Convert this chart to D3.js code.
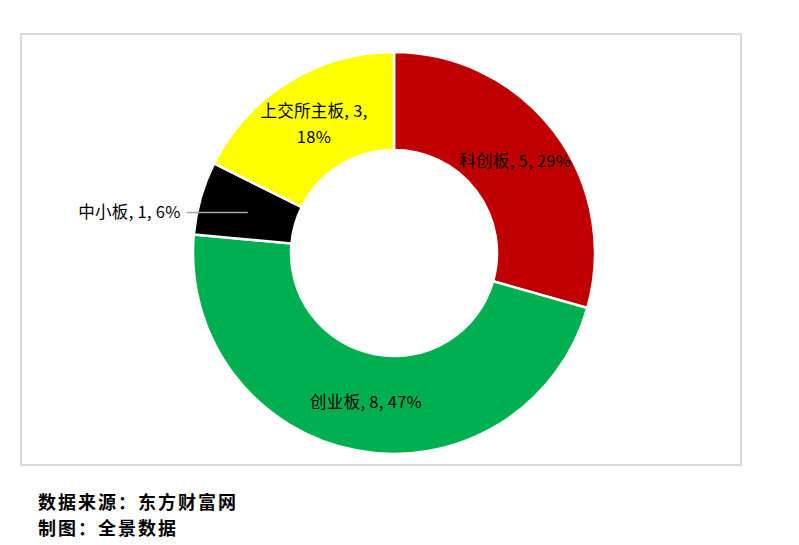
<!DOCTYPE html>
<html><head><meta charset="utf-8">
<script src="https://cdn.jsdelivr.net/npm/d3@7"></script>
<style>body{margin:0;background:#fff;}svg{display:block;}</style>
</head><body>
<script>
const categories = ["科创板", "创业板", "中小板", "上交所主板"];
const values = [5, 8, 1, 3];
const percents = ["29%", "47%", "6%", "18%"];
const colors = ["#C00000", "#00B050", "#000000", "#FFFF00"];
const sourceLines = ["数据来源：东方财富网", "制图：全景数据"];

const W = 799, H = 545;
const svg = d3.select("body").append("svg").attr("width", W).attr("height", H);

svg.append("rect").attr("x", 21).attr("y", 34).attr("width", 720).attr("height", 431)
  .attr("fill", "#fff").attr("stroke", "#D9D9D9").attr("stroke-width", 2);

const cx = 394, cy = 253, R = 201, r = 103;
const data = categories.map((c, i) => ({ name: c, value: values[i], pct: percents[i], color: colors[i] }));
const pie = d3.pie().value(d => d.value).sort(null);
const arcs = pie(data);
const arc = d3.arc().innerRadius(r).outerRadius(R);
const labelArc = d3.arc().innerRadius((R + r) / 2).outerRadius((R + r) / 2);

const g = svg.append("g").attr("transform", `translate(${cx},${cy})`);
g.selectAll("path").data(arcs).join("path")
  .attr("d", arc).attr("fill", d => d.data.color)
  .attr("stroke", "#fff").attr("stroke-width", 2.5).attr("stroke-linejoin", "round");

const font = "'Noto Sans CJK SC', 'Noto Sans', sans-serif";
arcs.forEach(a => {
  const [lx, ly] = labelArc.centroid(a);
  const d = a.data;
  const t = g.append("text").attr("font-family", font).attr("font-size", 16.5).attr("fill", "#000")
    .attr("text-anchor", "middle").attr("letter-spacing", 0.3);
  if (d.name === "上交所主板") {
    t.append("tspan").attr("x", lx).attr("y", ly - 7).text(`${d.name}, ${d.value},`);
    t.append("tspan").attr("x", lx).attr("y", ly + 19).text(d.pct);
  } else if (d.name === "中小板") {
    g.append("line").attr("x1", lx).attr("y1", ly + 1).attr("x2", lx - 61).attr("y2", ly + 1)
      .attr("stroke", "#A6A6A6").attr("stroke-width", 1.5);
    t.attr("text-anchor", "end").attr("x", lx - 67).attr("y", ly + 7).text(`${d.name}, ${d.value}, ${d.pct}`);
  } else {
    t.attr("x", lx).attr("y", ly + 6).text(`${d.name}, ${d.value}, ${d.pct}`);
  }
});

svg.selectAll("text.src").data(sourceLines).join("text").attr("class", "src")
  .attr("x", 38).attr("y", (d, i) => 509 + i * 26)
  .attr("font-family", "'Noto Sans CJK SC', sans-serif").attr("font-weight", "bold")
  .attr("font-size", 18).attr("letter-spacing", 2).attr("fill", "#000").text(d => d);
</script>
</body></html>
